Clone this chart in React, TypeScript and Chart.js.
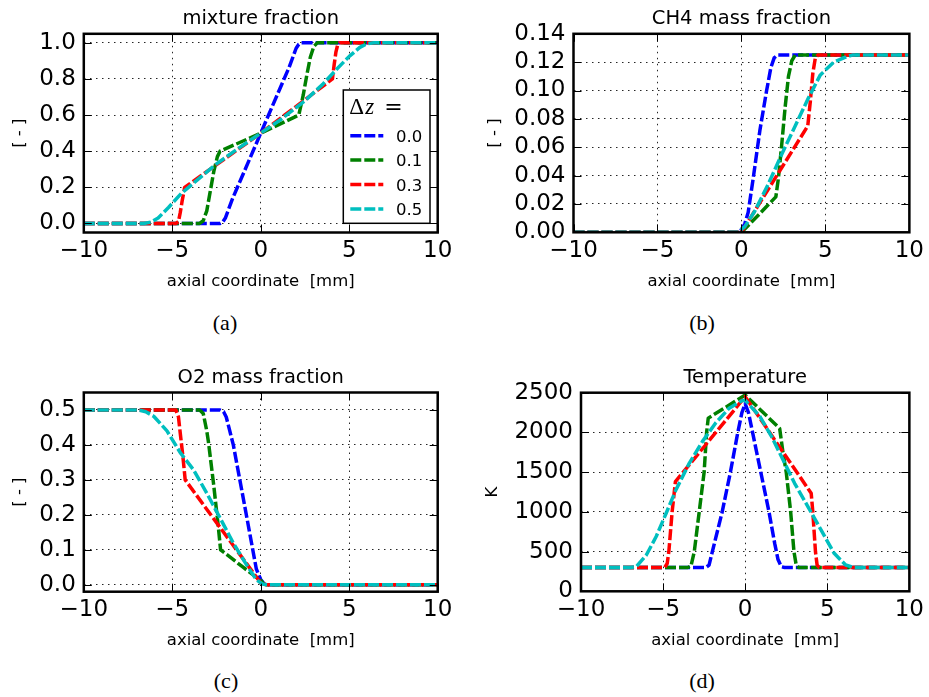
import React, { useEffect, useRef } from 'react';
import { Chart, registerables } from 'chart.js';

Chart.register(...registerables);

// ---------- shared ----------
const seriesLabels = ['0.0', '0.1', '0.3', '0.5'];
const seriesColors = ['#0000ff', '#008000', '#ff0000', '#00bfbf'];
const xTicks = [-10, -5, 0, 5, 10];

// ---------- (a) mixture fraction ----------
const mixX0 = [-10, -2.3, -2.15, -2.0, -1.85, -1.6, 0, 1.6, 1.85, 2.0, 2.15, 2.3, 10];
const mixY0 = [0, 0, 0.008, 0.03, 0.07, 0.136, 0.5, 0.864, 0.93, 0.97, 0.992, 1, 1];
const mixX1 = [-10, -3.45, -3.25, -3.05, -2.85, -2.65, -2.45, -2.3, 0, 2.15, 2.4, 2.6, 2.8, 3.0, 3.2, 10];
const mixY1 = [0, 0, 0.015, 0.07, 0.18, 0.29, 0.37, 0.4, 0.5, 0.6, 0.71, 0.82, 0.92, 0.98, 1, 1];
const mixX2 = [-10, -4.8, -4.65, -4.55, -4.45, -4.3, 0, 4.05, 4.15, 4.25, 4.35, 4.45, 10];
const mixY2 = [0, 0, 0.01, 0.06, 0.12, 0.2, 0.5, 0.8, 0.88, 0.95, 0.99, 1, 1];
const mixX3 = [-10, -6.6, -6.2, -5.8, -5.2, -4.5, -3.6, -2.5, -1.2, 0, 1.2, 2.5, 3.5, 4.3, 5.0, 5.6, 6.0, 6.4, 10];
const mixY3 = [0, 0, 0.008, 0.03, 0.09, 0.165, 0.24, 0.33, 0.42, 0.5, 0.58, 0.68, 0.77, 0.855, 0.925, 0.975, 0.995, 1, 1];
const mixTicks = [0, 0.2, 0.4, 0.6, 0.8, 1.0];

// ---------- (b) CH4 mass fraction ----------
const ch4X0 = [-10, -0.1, 0.2, 0.4, 0.7, 1.1, 1.5, 1.75, 1.95, 2.15, 10];
const ch4Y0 = [0, 0, 0.006, 0.014, 0.038, 0.072, 0.1, 0.116, 0.123, 0.125, 0.125];
const ch4X1 = [-10, 0, 1.0, 2.05, 2.2, 2.4, 2.6, 2.8, 3.0, 3.2, 10];
const ch4Y1 = [0, 0, 0.012, 0.025, 0.038, 0.062, 0.088, 0.11, 0.121, 0.125, 0.125];
const ch4X2 = [-10, 0, 2.0, 3.95, 4.1, 4.25, 4.4, 4.55, 10];
const ch4Y2 = [0, 0, 0.038, 0.075, 0.092, 0.112, 0.123, 0.125, 0.125];
const ch4X3 = [-10, -0.2, 0.2, 0.8, 1.6, 2.4, 3.2, 4.0, 4.7, 5.5, 6.3, 6.6, 10];
const ch4Y3 = [0, 0, 0.004, 0.015, 0.034, 0.055, 0.075, 0.095, 0.111, 0.12, 0.124, 0.125, 0.125];
const ch4Ticks = [0, 0.02, 0.04, 0.06, 0.08, 0.1, 0.12, 0.14];

// ---------- (c) O2 mass fraction ----------
const o2X0 = [-10, -2.3, -2.1, -1.95, -1.75, -1.55, -0.8, -0.25, 0, 0.2, 0.35, 10];
const o2Y0 = [0.5, 0.5, 0.495, 0.48, 0.44, 0.4, 0.196, 0.045, 0.015, 0.002, 0, 0];
const o2X1 = [-10, -3.45, -3.25, -3.05, -2.95, -2.67, -2.4, -2.27, -1, 0, 0.2, 0.35, 10];
const o2Y1 = [0.5, 0.5, 0.49, 0.44, 0.406, 0.29, 0.167, 0.1, 0.05, 0.012, 0.001, 0, 0];
const o2X2 = [-10, -4.8, -4.65, -4.55, -4.4, -4.27, 0, 0.3, 10];
const o2Y2 = [0.5, 0.5, 0.48, 0.434, 0.367, 0.3, 0.005, 0, 0];
const o2X3 = [-10, -6.9, -6.5, -6.05, -5.3, -4.55, -3.8, -3.05, -2.3, -1.55, -0.8, -0.25, 0.1, 0.35, 10];
const o2Y3 = [0.5, 0.5, 0.495, 0.482, 0.44, 0.378, 0.329, 0.262, 0.191, 0.119, 0.057, 0.014, 0.002, 0, 0];
const o2Ticks = [0, 0.1, 0.2, 0.3, 0.4, 0.5];

// ---------- (d) Temperature ----------
const tX0 = [-10, -2.4, -2.2, -2.0, -1.7, -1.4, -0.9, -0.45, -0.2, 0, 0.2, 0.45, 0.95, 1.45, 1.8, 2.0, 2.2, 2.4, 10];
const tY0 = [300, 300, 330, 500, 750, 1000, 1500, 2000, 2250, 2360, 2250, 2000, 1500, 1000, 600, 400, 310, 300, 300];
const tX1 = [-10, -3.5, -3.3, -3.1, -2.8, -2.5, -2.35, -2.25, 0, 2.1, 2.3, 2.5, 2.77, 2.97, 3.1, 3.25, 10];
const tY1 = [300, 300, 320, 500, 1000, 1500, 2000, 2180, 2470, 2050, 1750, 1500, 1000, 500, 340, 300, 300];
const tX2 = [-10, -4.9, -4.75, -4.65, -4.45, -4.25, 0, 4.02, 4.12, 4.28, 4.38, 4.5, 10];
const tY2 = [300, 300, 350, 500, 1000, 1380, 2450, 1234, 1000, 500, 330, 300, 300];
const tX3 = [-10, -7, -6.63, -6.02, -5.42, -4.82, -4.22, -3.41, -2.61, -1.81, -1.0, -0.2, 0, 0.9, 1.61, 2.31, 3.01, 3.82, 4.62, 5.42, 6.12, 6.6, 10];
const tY3 = [300, 300, 310, 457, 690, 980, 1276, 1611, 1884, 2115, 2300, 2400, 2405, 2200, 1947, 1653, 1360, 1066, 772, 478, 331, 300, 300];
const tTicks = [0, 500, 1000, 1500, 2000, 2500];

// ---------- panel layout ----------
type Panel = {
  title: string;
  yTitle: string;
  xs: number[][];
  ys: number[][];
  yMin: number;
  yMax: number;
  yTicks: number[];
  yDec: number;
  canvas: { left: number; top: number; w: number; h: number };
  plot: { l: number; t: number; r: number; b: number };
  yTitlePad: number;
  xTitlePad: number;
  legend: boolean;
  caption: string;
  capX: number;
  capY: number;
};

const panels: Panel[] = [
  {
    title: 'mixture fraction', yTitle: '[ - ]',
    xs: [mixX0, mixX1, mixX2, mixX3], ys: [mixY0, mixY1, mixY2, mixY3],
    yMin: -0.05, yMax: 1.05, yTicks: mixTicks, yDec: 1,
    canvas: { left: 0, top: 0, w: 465, h: 300 },
    plot: { l: 83.8, t: 33.8, r: 437.7, b: 232.5 },
    yTitlePad: 9.6, xTitlePad: 8.1, legend: true,
    caption: '(a)', capX: 225, capY: 325,
  },
  {
    title: 'CH4 mass fraction', yTitle: '[ - ]',
    xs: [ch4X0, ch4X1, ch4X2, ch4X3], ys: [ch4Y0, ch4Y1, ch4Y2, ch4Y3],
    yMin: 0, yMax: 0.14, yTicks: ch4Ticks, yDec: 2,
    canvas: { left: 465, top: 0, w: 464, h: 300 },
    plot: { l: 573.5, t: 33.8, r: 912.7, b: 232.3 },
    yTitlePad: 19.6, xTitlePad: 8.1, legend: false,
    caption: '(b)', capX: 702, capY: 325,
  },
  {
    title: 'O2 mass fraction', yTitle: '[ - ]',
    xs: [o2X0, o2X1, o2X2, o2X3], ys: [o2Y0, o2Y1, o2Y2, o2Y3],
    yMin: -0.02, yMax: 0.55, yTicks: o2Ticks, yDec: 1,
    canvas: { left: 0, top: 360, w: 465, h: 300 },
    plot: { l: 83.8, t: 392.5, r: 437.7, b: 591.7 },
    yTitlePad: 9.6, xTitlePad: 9.4, legend: false,
    caption: '(c)', capX: 226, capY: 683,
  },
  {
    title: 'Temperature', yTitle: 'K',
    xs: [tX0, tX1, tX2, tX3], ys: [tY0, tY1, tY2, tY3],
    yMin: 0, yMax: 2500, yTicks: tTicks, yDec: 0,
    canvas: { left: 465, top: 360, w: 464, h: 300 },
    plot: { l: 581, t: 392.7, r: 912.7, b: 591.3 },
    yTitlePad: 18, xTitlePad: 9.4, legend: false,
    caption: '(d)', capX: 702, capY: 683,
  },
];

const DASH = [11, 3];
const LINE_W = 3.5;

const fmt = (v: number, dec: number) => {
  const s = Math.abs(v).toFixed(dec);
  return v < 0 ? '\u2212' + s : s;
};

const decor = {
  id: 'decor',
  afterDatasetsDraw(chart: any, _args: any, opts: any) {
    const { ctx, chartArea: a } = chart;
    const xs = chart.scales.x;
    const ys = chart.scales.y;
    ctx.save();
    // inward tick marks on all four sides
    ctx.strokeStyle = '#000';
    ctx.lineWidth = 1;
    ctx.setLineDash([]);
    ctx.beginPath();
    const TL = 8;
    for (const v of opts.xTicks) {
      const p = Math.round(xs.getPixelForValue(v)) + 0.5;
      ctx.moveTo(p, a.bottom);
      ctx.lineTo(p, a.bottom - TL);
      ctx.moveTo(p, a.top);
      ctx.lineTo(p, a.top + TL);
    }
    for (const v of opts.yTicks) {
      const p = Math.round(ys.getPixelForValue(v)) + 0.5;
      ctx.moveTo(a.left, p);
      ctx.lineTo(a.left + TL, p);
      ctx.moveTo(a.right, p);
      ctx.lineTo(a.right - TL, p);
    }
    ctx.stroke();
    // frame
    ctx.lineWidth = 2.5;
    ctx.strokeRect(a.left, a.top, a.right - a.left, a.bottom - a.top);
    // title
    ctx.fillStyle = '#000';
    ctx.font = '19.5px "DejaVu Sans"';
    ctx.textAlign = 'center';
    ctx.textBaseline = 'alphabetic';
    ctx.fillText(opts.title, (a.left + a.right) / 2, a.top - 9.5);
    // legend
    if (opts.legend) {
      const bw = 86.7;
      const bh = 133.3;
      const bx = a.right - 94.4;
      const by = a.top + 56.2;
      ctx.fillStyle = '#fff';
      ctx.fillRect(bx, by, bw, bh);
      ctx.lineWidth = 1.5;
      ctx.strokeStyle = '#000';
      ctx.strokeRect(bx, by, bw, bh);
      ctx.fillStyle = '#000';
      ctx.textAlign = 'left';
      ctx.font = '23px "Liberation Serif"';
      ctx.fillText('\u0394', bx + 6, by + 24);
      ctx.font = 'italic 23px "Liberation Serif"';
      ctx.fillText('z', bx + 22, by + 24);
      ctx.font = '22px "DejaVu Sans"';
      ctx.fillText('=', bx + 41, by + 24);
      chart.data.datasets.forEach((ds: any, i: number) => {
        const yb = by + 51.7 + i * 24.4;
        ctx.save();
        ctx.setLineDash(DASH);
        ctx.lineWidth = LINE_W;
        ctx.lineCap = 'butt';
        ctx.strokeStyle = ds.borderColor;
        ctx.beginPath();
        ctx.moveTo(bx + 7, yb - 6);
        ctx.lineTo(bx + 40, yb - 6);
        ctx.stroke();
        ctx.restore();
        ctx.fillStyle = '#000';
        ctx.font = '16.5px "DejaVu Sans"';
        ctx.textAlign = 'right';
        ctx.fillText(ds.label, bx + 79, yb);
      });
    }
    ctx.restore();
  },
};

function ChartPanel({ p }: { p: Panel }) {
  const ref = useRef<HTMLCanvasElement>(null);
  useEffect(() => {
    if (!ref.current) return;
    const datasets = p.xs.map((xa, i) => ({
      label: seriesLabels[i],
      data: xa.map((x, j) => ({ x, y: p.ys[i][j] })),
      borderColor: seriesColors[i],
      backgroundColor: seriesColors[i],
      borderWidth: LINE_W,
      borderDash: DASH,
      borderJoinStyle: 'round' as const,
      borderCapStyle: 'butt' as const,
      pointRadius: 0,
      pointHoverRadius: 0,
      fill: false,
      tension: 0,
      order: 3 - i,
    }));
    const axisTitleFont = { family: '"DejaVu Sans"', size: 16.5 };
    const tickFont = { family: '"DejaVu Sans"', size: 23 };
    const gridOpts = { color: 'rgba(0,0,0,0.85)', lineWidth: 1, drawTicks: false };
    const chart = new Chart(ref.current, {
      type: 'line',
      data: { datasets },
      options: {
        animation: false,
        responsive: false,
        devicePixelRatio: 1,
        events: [],
        layout: {
          padding: {
            left: 0,
            top: p.plot.t - p.canvas.top,
            right: p.canvas.left + p.canvas.w - p.plot.r,
            bottom: 0,
          },
        },
        plugins: {
          legend: { display: false },
          tooltip: { enabled: false },
          title: { display: false },
          decor: { title: p.title, xTicks, yTicks: p.yTicks, legend: p.legend },
        } as any,
        scales: {
          x: {
            type: 'linear',
            min: -10,
            max: 10,
            afterBuildTicks: (s: any) => {
              s.ticks = xTicks.map((v) => ({ value: v }));
            },
            afterFit: (s: any) => {
              s.height = p.canvas.top + p.canvas.h - p.plot.b;
            },
            ticks: {
              color: '#000',
              font: tickFont,
              padding: 5,
              autoSkip: false,
              maxRotation: 0,
              callback: (v: any) => fmt(Number(v), 0),
            },
            grid: gridOpts,
            border: { display: false, dash: [1.5, 4.5] },
            title: {
              display: true,
              text: 'axial coordinate  [mm]',
              color: '#000',
              font: axisTitleFont,
              padding: { top: 0, bottom: p.xTitlePad },
            },
          },
          y: {
            type: 'linear',
            min: p.yMin,
            max: p.yMax,
            afterBuildTicks: (s: any) => {
              s.ticks = p.yTicks.map((v) => ({ value: v }));
            },
            afterFit: (s: any) => {
              s.width = p.plot.l - p.canvas.left;
            },
            ticks: {
              color: '#000',
              font: tickFont,
              padding: 8,
              autoSkip: false,
              callback: (v: any) => fmt(Number(v), p.yDec),
            },
            grid: gridOpts,
            border: { display: false, dash: [1.5, 4.5] },
            title: {
              display: true,
              text: p.yTitle,
              color: '#000',
              font: axisTitleFont,
              padding: { top: p.yTitlePad, bottom: 0 },
            },
          },
        },
      } as any,
      plugins: [decor],
    });
    return () => chart.destroy();
  }, [p]);
  return (
    <canvas
      ref={ref}
      width={p.canvas.w}
      height={p.canvas.h}
      style={{
        position: 'absolute',
        left: p.canvas.left,
        top: p.canvas.top,
        width: p.canvas.w,
        height: p.canvas.h,
      }}
    />
  );
}

export default function App() {
  return (
    <div
      style={{
        position: 'absolute',
        left: 0,
        top: 0,
        width: 929,
        height: 697,
        background: '#fff',
        overflow: 'hidden',
      }}
    >
      {panels.map((p) => (
        <ChartPanel key={p.title} p={p} />
      ))}
      {panels.map((p) => (
        <div
          key={p.caption}
          style={{
            position: 'absolute',
            left: p.capX,
            top: p.capY - 13,
            transform: 'translateX(-50%)',
            fontFamily: '"Liberation Serif", serif',
            fontSize: 22,
            lineHeight: 1,
            color: '#000',
            whiteSpace: 'nowrap',
          }}
        >
          {p.caption}
        </div>
      ))}
    </div>
  );
}
